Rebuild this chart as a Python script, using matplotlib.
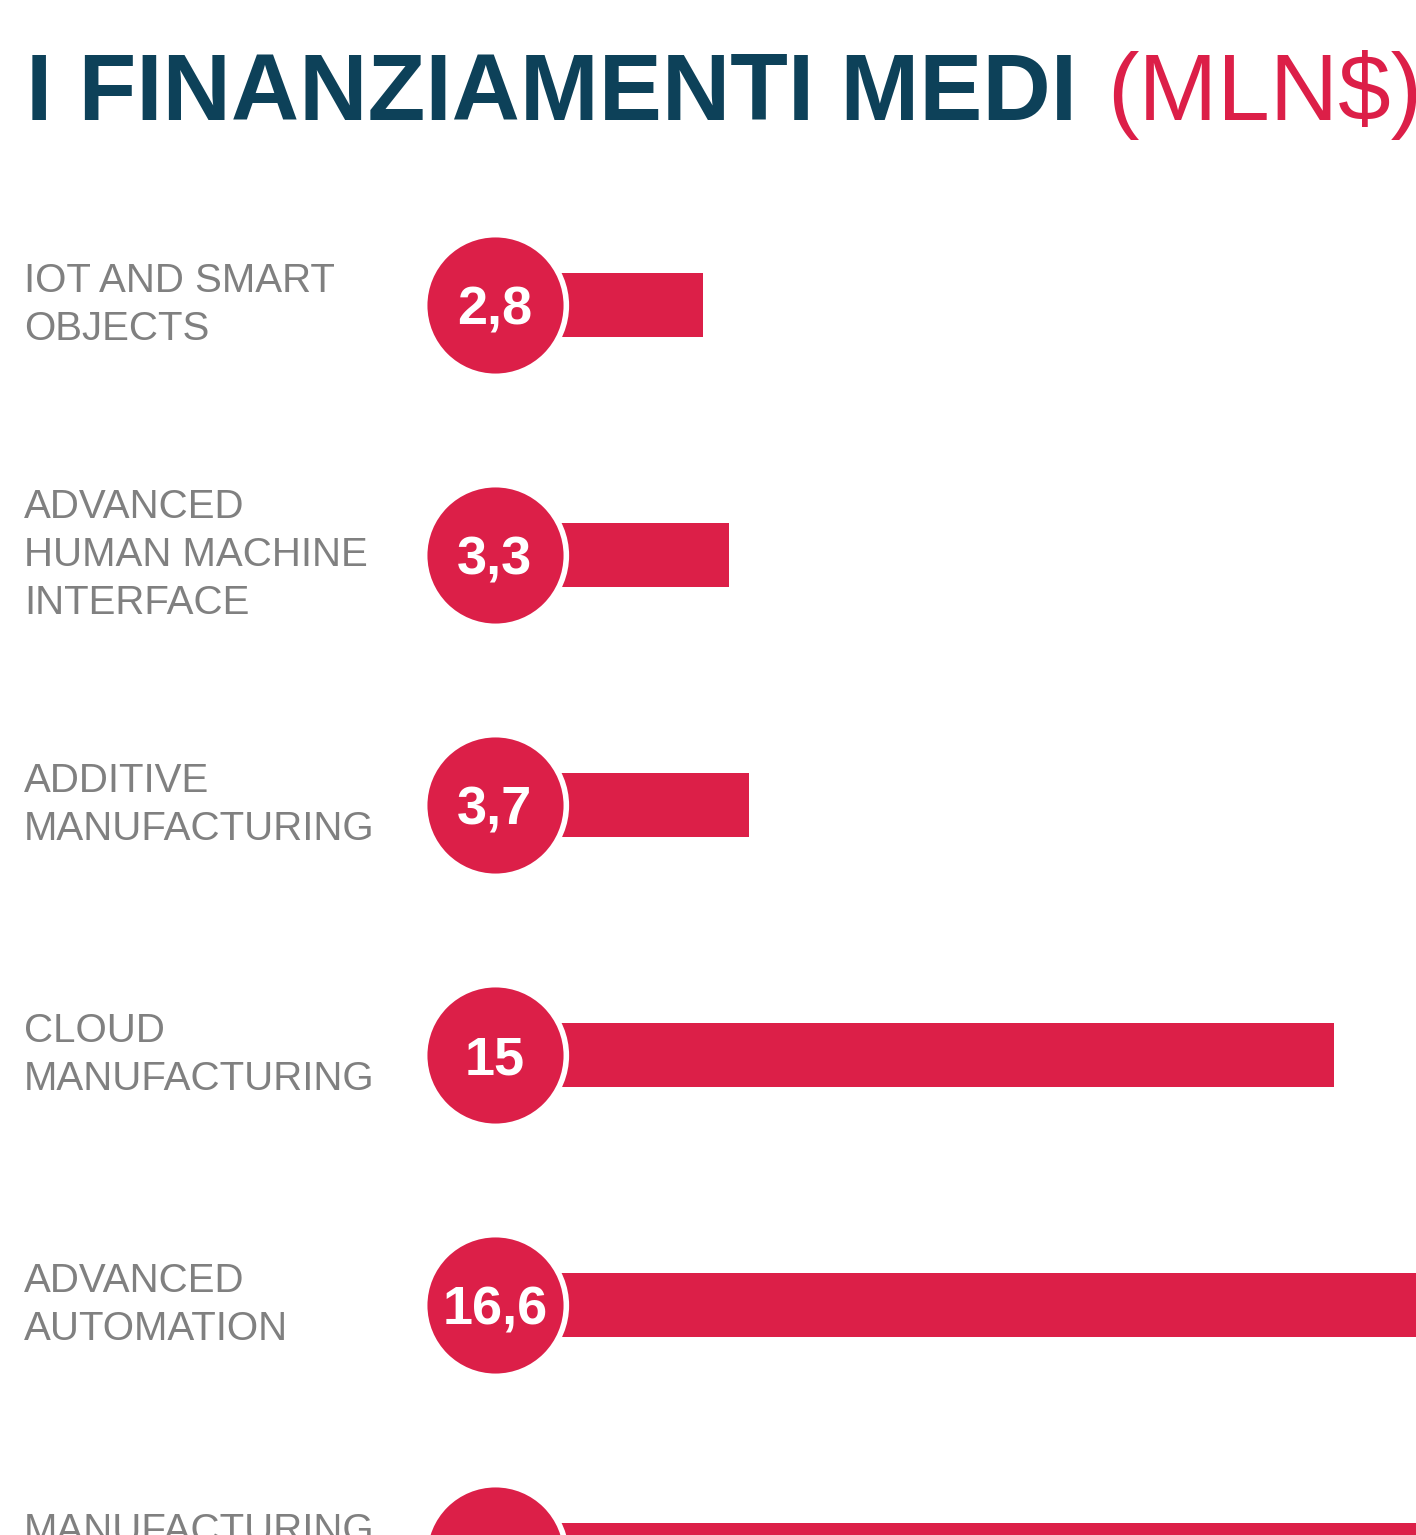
import matplotlib
matplotlib.use("Agg")
import matplotlib.pyplot as plt
import numpy as np

plt.rcParams["font.family"] = ["Liberation Sans", "DejaVu Sans"]

# data (last row is cut off by the bottom edge in the original)
categories = [
    "IOT AND SMART\nOBJECTS",
    "ADVANCED\nHUMAN MACHINE\nINTERFACE",
    "ADDITIVE\nMANUFACTURING",
    "CLOUD\nMANUFACTURING",
    "ADVANCED\nAUTOMATION",
    "MANUFACTURING\nBIG DATA",
]
values = [2.8, 3.3, 3.7, 15.0, 16.6, 19.0]

RED = "#dc1f48"
TEAL = "#0d4159"
GREY = "#808080"

W, H = 1416, 1535
fig = plt.figure(figsize=(W / 100, H / 100), dpi=100)
ax = fig.add_axes([0, 0, 1, 1])

# scale: x=0 sits just right of the circles, ~51.7 px per unit
px_per_unit = 51.7
x0_px = 558
ax.set_xlim(-x0_px / px_per_unit, (W - x0_px) / px_per_unit)
row_px, first_px = 250, 305
ax.set_ylim((H - first_px) / row_px, -first_px / row_px)
ax.axis("off")

y = np.arange(len(values))
ax.barh(y, values, height=0.256, color=RED, zorder=2)

circle_x = -1.22
ax.scatter(np.full(len(y), circle_x), y, s=102 ** 2, color=RED,
           edgecolor="white", linewidth=4, zorder=3)

for yi, v, cat in zip(y, values, categories):
    ax.text(circle_x, yi, f"{v:g}".replace(".", ","), ha="center",
            va="center_baseline", color="white", fontsize=39,
            fontweight="bold", zorder=4)
    ax.text(24 / W, yi, cat, transform=ax.get_yaxis_transform(),
            ha="left", va="center", color=GREY, fontsize=29,
            linespacing=1.32)

# title in two colours
t1 = fig.text(26 / W, 1 - 120 / H, "I FINANZIAMENTI MEDI", color=TEAL,
              fontsize=68, fontweight="bold", ha="left", va="baseline")
fig.canvas.draw()
ax.annotate("(MLN$)", xy=(1, 0), xycoords=t1, xytext=(22, 0),
            textcoords="offset points", color=RED, fontsize=68,
            ha="left", va="bottom", annotation_clip=False)

fig.savefig("out.png", dpi=100)
